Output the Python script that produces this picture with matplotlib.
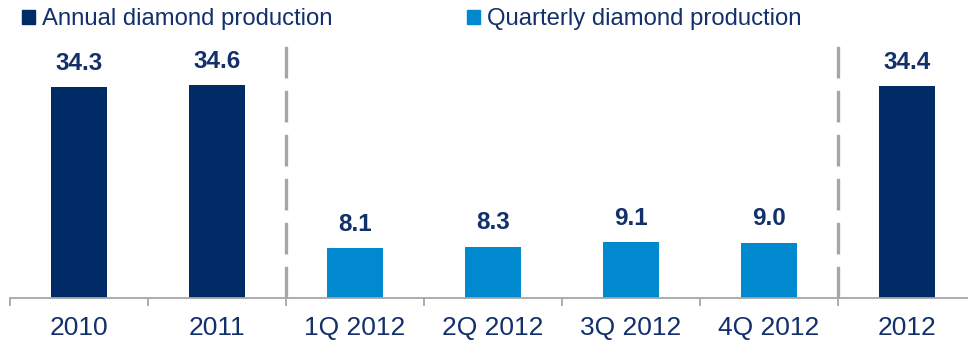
import matplotlib.pyplot as plt
import matplotlib.patches as mpatches

# diamond production, million carats
categories = ["2010", "2011", "1Q 2012", "2Q 2012", "3Q 2012", "4Q 2012", "2012"]
production = [34.3, 34.6, 8.1, 8.3, 9.1, 9.0, 34.4]
is_quarter = [False, False, True, True, True, True, False]

navy = "#002B66"
blue = "#0089CE"
text_col = "#13306B"
grey = "#A6A6A6"

plt.rcParams["font.family"] = ["Liberation Sans", "DejaVu Sans"]

fig = plt.figure(figsize=(9.68, 3.40), dpi=100)
# axes runs from the baseline up to the top edge
ax = fig.add_axes([10 / 968, 42 / 340, 966 / 968, 298 / 340])

x = range(len(categories))
colors = [blue if q else navy for q in is_quarter]
bars = ax.bar(x, production, width=0.4, color=colors, zorder=2)

for b, v in zip(bars, production):
    ax.annotate(f"{v:.1f}", (b.get_x() + b.get_width() / 2, v),
                xytext=(0, 9), textcoords="offset points",
                ha="center", va="bottom", fontsize=17.5, fontweight="bold",
                color=text_col)

# dashed separators between annual and quarterly groups
for sep in (1.5, 5.5):
    ax.vlines(sep, 0, 41.3, colors=grey, linewidth=2.4,
              linestyles=(0, (9.5, 3.7)), zorder=1)

ax.set_xlim(-0.5, len(categories) - 0.5)
ax.set_ylim(0, 48.45)

for side in ("top", "right", "left"):
    ax.spines[side].set_visible(False)
ax.spines["bottom"].set_color(grey)
ax.spines["bottom"].set_linewidth(1.3)

ax.set_yticks([])
ax.set_xticks(list(x))
ax.set_xticklabels(categories, fontsize=19, color=text_col)
ax.tick_params(axis="x", which="major", length=0, pad=13)
ax.set_xticks([i - 0.5 for i in range(len(categories) + 1)], minor=True)
ax.tick_params(axis="x", which="minor", length=6, width=1.3, color=grey,
               direction="out")

handles = [mpatches.Patch(color=navy, label="Annual diamond production"),
           mpatches.Patch(color=blue, label="Quarterly diamond production")]
fig.legend(handles=handles, loc="upper left", bbox_to_anchor=(22 / 968, 0.975),
           ncol=2, frameon=False, fontsize=17.2, labelcolor=text_col,
           borderpad=0, borderaxespad=0,
           handlelength=0.55, handleheight=0.55, handletextpad=0.3,
           columnspacing=5.6)

fig.savefig("out.png", dpi=100)
